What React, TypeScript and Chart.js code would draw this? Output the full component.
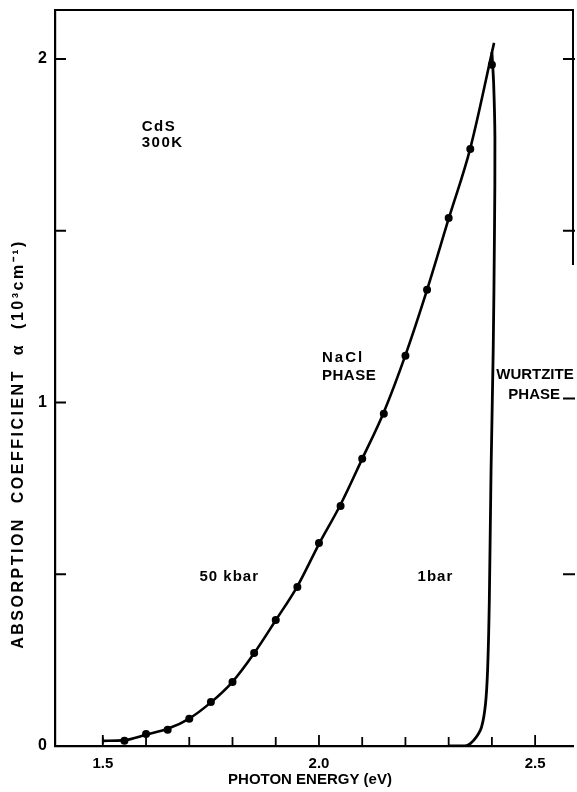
import React, { useEffect, useRef } from 'react';
import { Chart, registerables } from 'chart.js';

Chart.register(...registerables);

const FONT = "'Liberation Sans', Arial, sans-serif";

// 50 kbar (NaCl phase) measured points
const dotEnergy = [1.55, 1.60, 1.65, 1.70, 1.75, 1.80, 1.85, 1.90, 1.95, 2.00, 2.05, 2.10, 2.15, 2.20, 2.25, 2.30, 2.35, 2.40];
const dotAlpha = [0.015, 0.035, 0.047, 0.079, 0.128, 0.186, 0.271, 0.367, 0.463, 0.591, 0.699, 0.836, 0.967, 1.136, 1.328, 1.537, 1.738, 1.983];

// smooth 50 kbar curve
const naclEnergy = [1.50, 1.55, 1.60, 1.65, 1.70, 1.75, 1.80, 1.85, 1.90, 1.95, 2.00, 2.05, 2.10, 2.15, 2.20, 2.25, 2.30, 2.35, 2.405];
const naclAlpha = [0.015, 0.017, 0.033, 0.050, 0.080, 0.127, 0.187, 0.270, 0.366, 0.465, 0.588, 0.703, 0.836, 0.972, 1.138, 1.328, 1.535, 1.740, 2.047];

// 1 bar (wurtzite phase) curve
const wurtEnergy = [2.30, 2.338, 2.350, 2.364, 2.376, 2.385, 2.390, 2.394, 2.398, 2.403, 2.406, 2.407, 2.404, 2.400];
const wurtAlpha = [0, 0, 0.007, 0.026, 0.055, 0.12, 0.22, 0.42, 0.8, 1.15, 1.5, 1.77, 1.93, 2.02];

// start marker of the 50 kbar curve
const capEnergy = [1.5, 1.5];
const capAlpha = [0.006, 0.026];

// axes
const xRange = [1.3894, 2.5876];
const yRange = [0, 2.1427];
const xTicks = [1.5, 1.6, 1.7, 1.8, 1.9, 2.0, 2.1, 2.2, 2.3, 2.4, 2.5];
const xTickLabels = ['1.5', '', '', '', '', '2.0', '', '', '', '', '2.5'];
const yTicks = [0, 0.5, 1, 1.5, 2];
const yTickLabels = ['0', '', '1', '', '2'];

const xTitle = 'PHOTON ENERGY (eV)';
const yTitle = 'ABSORPTION  COEFFICIENT  \u03b1  (10\u00b3cm\u207b\u00b9)';

const notes = [
  { text: 'CdS', x: 1.590, y: 1.802, sp: 1.5 },
  { text: '300K', x: 1.590, y: 1.755, sp: 1.5 },
  { text: 'NaCl', x: 2.007, y: 1.130, sp: 2 },
  { text: 'PHASE', x: 2.007, y: 1.077, sp: 0.5 },
  { text: 'WURTZITE', x: 2.410, y: 1.080, sp: 0 },
  { text: 'PHASE', x: 2.438, y: 1.022, sp: 0 },
  { text: '50 kbar', x: 1.7235, y: 0.492, sp: 1 },
  { text: '1bar', x: 2.228, y: 0.492, sp: 1 },
];

const zip = (xs: number[], ys: number[]) => xs.map((x, i) => ({ x, y: ys[i] }));

const decor = {
  id: 'decor',
  afterDraw(chart: any) {
    const { ctx, chartArea } = chart;
    const xs = chart.scales.x;
    const ys = chart.scales.y;
    const { left, right, top, bottom } = chartArea;
    ctx.save();
    ctx.strokeStyle = '#000';
    ctx.fillStyle = '#000';
    ctx.lineWidth = 2;
    ctx.lineCap = 'butt';
    // top border and partial right border
    ctx.beginPath();
    ctx.moveTo(left - 1, top);
    ctx.lineTo(right, top);
    ctx.moveTo(right, top - 1);
    ctx.lineTo(right, ys.getPixelForValue(1.4));
    ctx.stroke();
    // x ticks (inward)
    ctx.lineWidth = 1.8;
    ctx.beginPath();
    xTicks.forEach((v, i) => {
      const px = xs.getPixelForValue(v);
      const len = xTickLabels[i] ? 11 : 9;
      ctx.moveTo(px, bottom);
      ctx.lineTo(px, bottom - len);
    });
    // left y ticks
    yTicks.forEach((v) => {
      if (v === 0) return;
      const py = ys.getPixelForValue(v);
      ctx.moveTo(left, py);
      ctx.lineTo(left + 11, py);
    });
    // right y ticks
    yTicks.forEach((v) => {
      if (v === 0) return;
      const py = ys.getPixelForValue(v) - (v === 1 ? 4 : 0);
      ctx.moveTo(right + 2, py);
      ctx.lineTo(right - 10, py);
    });
    ctx.stroke();

    // annotations
    ctx.font = `bold 15px ${FONT}`;
    ctx.textBaseline = 'middle';
    ctx.textAlign = 'left';
    notes.forEach((n) => {
      (ctx as any).letterSpacing = `${n.sp}px`;
      ctx.fillText(n.text, xs.getPixelForValue(n.x), ys.getPixelForValue(n.y));
    });

    // x title
    (ctx as any).letterSpacing = '0px';
    ctx.textAlign = 'center';
    ctx.font = `bold 15px ${FONT}`;
    ctx.fillText(xTitle, 310, 780);

    // y title
    ctx.translate(19, 444);
    ctx.rotate(-Math.PI / 2);
    ctx.font = `bold 16px ${FONT}`;
    (ctx as any).letterSpacing = '2.5px';
    ctx.fillText(yTitle, 0, 0);
    ctx.restore();
  },
};

export default function App() {
  const ref = useRef<HTMLCanvasElement>(null);
  useEffect(() => {
    if (!ref.current) return;
    Chart.defaults.font.family = FONT;
    Chart.defaults.color = '#000';
    const chart = new Chart(ref.current, {
      type: 'scatter',
      data: {
        datasets: [
          {
            data: zip(naclEnergy, naclAlpha),
            showLine: true,
            borderColor: '#000',
            borderWidth: 2.6,
            pointRadius: 0,
            tension: 0.4,
            cubicInterpolationMode: 'monotone',
          },
          {
            data: zip(dotEnergy, dotAlpha),
            showLine: false,
            pointRadius: 4,
            pointBackgroundColor: '#000',
            pointBorderWidth: 0,
          },
          {
            data: zip(wurtEnergy, wurtAlpha),
            showLine: true,
            borderColor: '#000',
            borderWidth: 2.8,
            pointRadius: 0,
            tension: 0.3,
          },
          {
            data: zip(capEnergy, capAlpha),
            showLine: true,
            borderColor: '#000',
            borderWidth: 1.8,
            pointRadius: 0,
            tension: 0,
          },
        ] as any,
      },
      options: {
        animation: false,
        responsive: false,
        devicePixelRatio: 1,
        layout: { padding: { left: 0, right: 2, top: 10, bottom: 0 } },
        plugins: { legend: { display: false }, tooltip: { enabled: false } },
        scales: {
          x: {
            type: 'linear',
            min: xRange[0],
            max: xRange[1],
            afterBuildTicks: (s: any) => {
              s.ticks = xTicks.map((v) => ({ value: v }));
            },
            afterFit: (s: any) => {
              s.height = 46;
              s.paddingLeft = 0;
              s.paddingRight = 0;
            },
            grid: { display: false, drawTicks: false },
            border: { display: true, color: '#000', width: 2.2 },
            ticks: {
              autoSkip: false,
              maxRotation: 0,
              padding: 9,
              font: { size: 15, weight: 'bold' },
              color: '#000',
              callback: (_v: any, i: number) => xTickLabels[i] ?? '',
            },
          },
          y: {
            type: 'linear',
            min: yRange[0],
            max: yRange[1],
            afterBuildTicks: (s: any) => {
              s.ticks = yTicks.map((v) => ({ value: v }));
            },
            afterFit: (s: any) => {
              s.width = 55;
              s.paddingTop = 0;
              s.paddingBottom = 0;
            },
            grid: { display: false, drawTicks: false },
            border: { display: true, color: '#000', width: 2.2 },
            ticks: {
              autoSkip: false,
              padding: 8,
              font: { size: 16, weight: 'bold' },
              color: '#000',
              callback: (_v: any, i: number) => yTickLabels[i] ?? '',
            },
          },
        },
      } as any,
      plugins: [decor],
    });
    return () => chart.destroy();
  }, []);
  return (
    <div style={{ position: 'absolute', left: 0, top: 0, width: 577, height: 792 }}>
      <canvas ref={ref} width={577} height={792} style={{ display: 'block' }} />
    </div>
  );
}
